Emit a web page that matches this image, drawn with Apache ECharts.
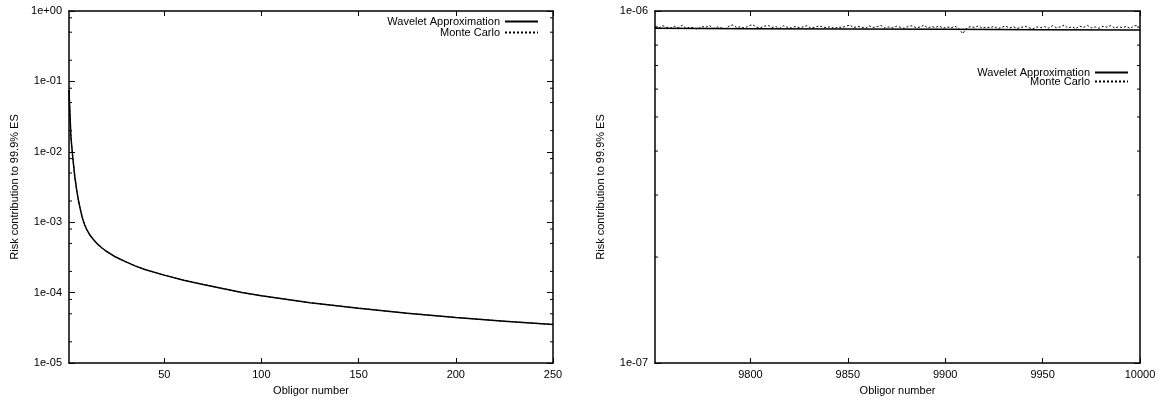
<!DOCTYPE html>
<html><head><meta charset="utf-8">
<script src="https://cdn.jsdelivr.net/npm/echarts@6/dist/echarts.min.js"></script>
<style>html,body{margin:0;padding:0;background:#fff}#c{width:1161px;height:401px}</style>
</head><body><div id="c"></div><script>
// ---------- data ----------
const seriesNames = ['Wavelet Approximation', 'Monte Carlo'];
const leftObligors = [1,2,3,4,5,6,7,8,9,10,12,14,16,18,20,25,30,35,40,50,60,70,80,90,100,125,150,175,200,225,250];
const leftWavelet = [0.075,0.016,8.0e-3,4.4e-3,2.8e-3,1.95e-3,1.45e-3,1.12e-3,9.3e-4,8.0e-4,6.4e-4,5.5e-4,4.8e-4,4.3e-4,3.9e-4,3.2e-4,2.75e-4,2.4e-4,2.13e-4,1.77e-4,1.5e-4,1.3e-4,1.14e-4,1.0e-4,9.0e-5,7.2e-5,6.0e-5,5.1e-5,4.42e-5,3.93e-5,3.52e-5];
const leftMonteCarlo = [0.0748,0.0161,8.03e-3,4.38e-3,2.81e-3,1.94e-3,1.46e-3,1.12e-3,9.32e-4,8.01e-4,6.42e-4,5.49e-4,4.81e-4,4.29e-4,3.91e-4,3.2e-4,2.76e-4,2.39e-4,2.13e-4,1.77e-4,1.5e-4,1.31e-4,1.14e-4,1.0e-4,9.02e-5,7.19e-5,6.01e-5,5.1e-5,4.43e-5,3.92e-5,3.53e-5];
const rightWaveletObligors = [9751,9800,9850,9900,9950,10000];
const rightWavelet = [8.93e-7,8.91e-7,8.89e-7,8.87e-7,8.85e-7,8.83e-7];
const rightMcFirst = 9751, rightMcStep = 2;
const rightMonteCarlo = [
 9.02e-7,8.96e-7,9.08e-7,8.99e-7,8.94e-7,9.05e-7,8.97e-7,9.11e-7,8.92e-7,9.00e-7,8.95e-7,8.88e-7,9.04e-7,8.98e-7,9.09e-7,8.93e-7,9.01e-7,8.96e-7,8.90e-7,9.06e-7,9.13e-7,8.97e-7,9.02e-7,8.94e-7,9.07e-7,
 9.15e-7,9.00e-7,8.96e-7,9.05e-7,9.10e-7,8.98e-7,9.03e-7,8.93e-7,9.08e-7,8.99e-7,8.95e-7,9.04e-7,8.97e-7,9.01e-7,9.09e-7,8.94e-7,8.99e-7,9.06e-7,9.02e-7,8.96e-7,9.03e-7,8.92e-7,9.00e-7,8.98e-7,9.05e-7,
 9.12e-7,8.97e-7,9.04e-7,9.00e-7,8.93e-7,9.07e-7,8.98e-7,9.02e-7,9.10e-7,8.95e-7,9.01e-7,8.96e-7,9.06e-7,8.99e-7,8.93e-7,9.04e-7,9.08e-7,8.97e-7,9.00e-7,9.11e-7,8.95e-7,9.03e-7,8.98e-7,9.06e-7,8.94e-7,
 9.01e-7,8.96e-7,9.05e-7,8.92e-7,8.62e-7,8.95e-7,9.03e-7,8.98e-7,9.07e-7,8.94e-7,9.00e-7,8.97e-7,9.04e-7,8.91e-7,8.99e-7,9.06e-7,8.95e-7,9.02e-7,8.93e-7,8.98e-7,9.05e-7,8.96e-7,8.90e-7,9.01e-7,8.97e-7,
 9.03e-7,8.94e-7,9.08e-7,8.97e-7,9.00e-7,9.12e-7,8.95e-7,9.02e-7,8.91e-7,9.06e-7,8.98e-7,9.10e-7,8.96e-7,9.01e-7,8.93e-7,9.05e-7,8.99e-7,9.09e-7,8.94e-7,9.02e-7,8.97e-7,9.04e-7,8.92e-7,9.07e-7,9.11e-7
];
const leftXTicks = [50,100,150,200,250];
const rightXTicks = [9800,9850,9900,9950,10000];
const leftXRange = [1,250];
const rightXRange = [9751,10000];
const leftYRange = [1e-5,1];
const rightYRange = [1e-7,1e-6];
const leftMinorTicks = [2e-5,5e-5,8e-5,2e-4,5e-4,8e-4,2e-3,5e-3,8e-3,2e-2,5e-2,8e-2,2e-1,5e-1,8e-1];
const rightMinorTicks = [2e-7,3e-7,4e-7,5e-7,6e-7,7e-7,8e-7,9e-7];
const xTitle = 'Obligor number';
const yTitle = 'Risk contribution to 99.9% ES';

// ---------- chart ----------
const FONT = 'Liberation Sans, Arial, Helvetica, sans-serif';
const txt = {fontFamily: FONT, fontSize: 11, color: '#000'};
const axisLine = {show: true, lineStyle: {color: '#000', width: 1.5}};
function expLabel(v) {
  const e = Math.round(Math.log10(v));
  return '1e' + (e < 0 ? '-' : '+') + String(Math.abs(e)).padStart(2, '0');
}
function xAx(grid, range, ticks, pos, main) {
  return {
    type: 'value', gridIndex: grid, position: pos, min: range[0], max: range[1],
    axisLine: axisLine, splitLine: {show: false},
    axisTick: {show: true, inside: true, length: 5, customValues: ticks, lineStyle: {color: '#000', width: 1}},
    axisLabel: {show: main, customValues: ticks, margin: 6, formatter: v => String(v), ...txt},
    name: main ? xTitle : '', nameLocation: 'middle', nameGap: 22, nameTextStyle: txt
  };
}
function yAx(grid, range, pos, main) {
  return {
    type: 'log', logBase: 10, gridIndex: grid, position: pos, min: range[0], max: range[1],
    axisLine: axisLine, splitLine: {show: false}, minorTick: {show: false},
    axisTick: {show: true, inside: true, length: 6, lineStyle: {color: '#000', width: 1}},
    axisLabel: {show: main, margin: 7, formatter: expLabel, ...txt},
    name: main ? yTitle : '', nameLocation: 'middle', nameGap: 49, nameTextStyle: txt
  };
}
function minorSeries(xi, yi, xr, values) {
  return {
    type: 'custom', xAxisIndex: xi, yAxisIndex: yi, silent: true, clip: false,
    data: values.map(v => [xr[0], v]),
    encode: {x: 0, y: 1},
    renderItem: function (params, api) {
      const v = api.value(1);
      const a = api.coord([xr[0], v]);
      const b = api.coord([xr[1], v]);
      const st = {stroke: '#000', lineWidth: 1};
      return {type: 'group', children: [
        {type: 'line', shape: {x1: a[0], y1: a[1], x2: a[0] + 3, y2: a[1]}, style: st},
        {type: 'line', shape: {x1: b[0], y1: b[1], x2: b[0] - 3, y2: b[1]}, style: st}
      ]};
    }
  };
}
function legend(name, right, top) {
  return {
    data: [name], right: right, top: top, orient: 'vertical', align: 'right', padding: 0,
    itemWidth: 33, itemHeight: 10, selectedMode: false, textStyle: txt,
    itemStyle: {opacity: 0, color: 'rgba(0,0,0,0)', borderWidth: 0}
  };
}
const pairs = (xs, ys) => xs.map((x, i) => [x, ys[i]]);
const rightMcPairs = rightMonteCarlo.map((v, i) => [rightMcFirst + rightMcStep * i, v]);
const solid = {color: '#000', width: 1.5, type: 'solid'};
const dotted = {color: '#000', width: 1, type: [2, 2]};

const chart = echarts.init(document.getElementById('c'), null, {renderer: 'canvas'});
chart.setOption({
  animation: false,
  backgroundColor: '#fff',
  textStyle: {fontFamily: FONT},
  grid: [
    {left: 69, top: 11, width: 484, height: 354},
    {left: 655, top: 11, width: 485, height: 354}
  ],
  legend: [
    legend(seriesNames[0], 622, 16),
    legend(seriesNames[1], 622, 27),
    legend(seriesNames[0], 32, 67),
    legend(seriesNames[1], 32, 76)
  ],
  xAxis: [
    xAx(0, leftXRange, leftXTicks, 'bottom', true),
    xAx(0, leftXRange, leftXTicks, 'top', false),
    xAx(1, rightXRange, rightXTicks, 'bottom', true),
    xAx(1, rightXRange, rightXTicks, 'top', false)
  ],
  yAxis: [
    yAx(0, leftYRange, 'left', true),
    yAx(0, leftYRange, 'right', false),
    yAx(1, rightYRange, 'left', true),
    yAx(1, rightYRange, 'right', false)
  ],
  series: [
    {name: seriesNames[0], type: 'line', xAxisIndex: 0, yAxisIndex: 0, data: pairs(leftObligors, leftWavelet), showSymbol: false, symbol: 'none', color: '#000', lineStyle: solid},
    {name: seriesNames[1], type: 'line', xAxisIndex: 0, yAxisIndex: 0, data: pairs(leftObligors, leftMonteCarlo), showSymbol: false, symbol: 'none', color: '#000', lineStyle: dotted},
    {name: seriesNames[0], type: 'line', xAxisIndex: 2, yAxisIndex: 2, data: pairs(rightWaveletObligors, rightWavelet), showSymbol: false, symbol: 'none', color: '#000', lineStyle: solid},
    {name: seriesNames[1], type: 'line', xAxisIndex: 2, yAxisIndex: 2, data: rightMcPairs, showSymbol: false, symbol: 'none', color: '#000', lineStyle: dotted},
    minorSeries(0, 0, leftXRange, leftMinorTicks),
    minorSeries(2, 2, rightXRange, rightMinorTicks)
  ]
});
</script></body></html>
